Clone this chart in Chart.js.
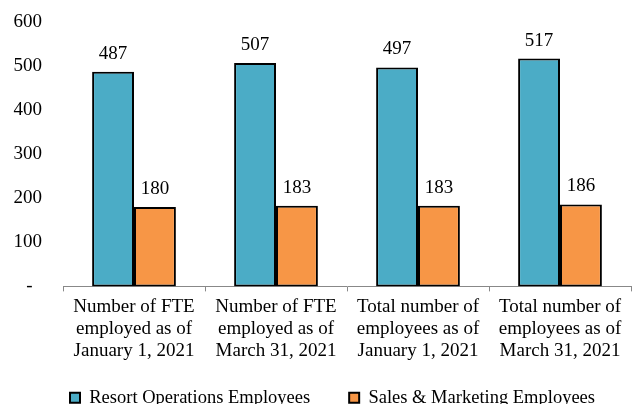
<!DOCTYPE html>
<html>
<head>
<meta charset="utf-8">
<script src="https://cdn.jsdelivr.net/npm/chart.js@4.4.1/dist/chart.umd.min.js"></script>
<style>
  html, body { margin: 0; padding: 0; background: #fff; overflow: hidden; }
  #wrap { width: 642px; height: 404px; }
</style>
</head>
<body>
<div id="wrap"><canvas id="chart"></canvas></div>
<script>
// chart data
const categories = [
    ['Number of FTE', 'employed as of', 'January 1, 2021'],
    ['Number of FTE', 'employed as of', 'March 31, 2021'],
    ['Total number of', 'employees as of', 'January 1, 2021'],
    ['Total number of', 'employees as of', 'March 31, 2021']
];
const resortOps = [487, 507, 497, 517];
const salesMarketing = [180, 183, 183, 186];
const seriesNames = ['Resort Operations Employees', 'Sales & Marketing Employees'];
const yTicks = [0, 100, 200, 300, 400, 500, 600];

const FONT = "'Liberation Serif', 'Times New Roman', serif";

// draws the value above each bar
const valueLabels = {
    id: 'valueLabels',
    afterDatasetsDraw(chart) {
        const ctx = chart.ctx;
        ctx.save();
        ctx.font = '19px ' + FONT;
        ctx.fillStyle = '#000';
        ctx.textAlign = 'center';
        ctx.textBaseline = 'middle';
        chart.data.datasets.forEach((ds, i) => {
            chart.getDatasetMeta(i).data.forEach((bar, j) => {
                ctx.fillText(ds.data[j], bar.x, bar.y - 18);
            });
        });
        ctx.restore();
    }
};

// legend sits tighter under the axis labels (and a bit right) compared to Chart.js default
const legendShift = {
    id: 'legendShift',
    afterLayout(chart) {
        const lg = chart.legend;
        lg.top -= 18; lg.bottom -= 18;
        lg.left += 12; lg.right += 12;
    }
};

new Chart(document.getElementById('chart').getContext('2d'), {
    type: 'bar',
    data: {
        labels: categories,
        datasets: [{
            label: seriesNames[0],
            data: resortOps,
            backgroundColor: '#4BACC6',
            borderColor: '#000',
            borderWidth: 2,
            borderSkipped: false
        }, {
            label: seriesNames[1],
            data: salesMarketing,
            backgroundColor: '#F79646',
            borderColor: '#000',
            borderWidth: 2,
            borderSkipped: false
        }]
    },
    options: {
        responsive: true,
        maintainAspectRatio: false,
        animation: false,
        // legend runs off the bottom edge like in the original
        layout: { padding: { left: 10, right: 11, top: 22, bottom: -31 } },
        datasets: {
            bar: { categoryPercentage: 0.59, barPercentage: 1.0 }
        },
        plugins: {
            legend: {
                position: 'bottom',
                labels: {
                    font: { family: FONT, size: 18.5 },
                    color: '#000',
                    boxWidth: 10,
                    boxHeight: 10,
                    padding: 39
                }
            },
            tooltip: { enabled: false }
        },
        scales: {
            x: {
                offset: true,
                grid: {
                    display: true,
                    drawOnChartArea: false,
                    drawTicks: true,
                    tickLength: 5,
                    color: '#888'
                },
                border: { display: true, color: '#888', width: 1 },
                ticks: {
                    color: '#000',
                    font: { family: FONT, size: 19, lineHeight: 1.16 },
                    padding: 5,
                    maxRotation: 0,
                    autoSkip: false
                }
            },
            y: {
                min: 0,
                max: 600,
                afterBuildTicks: (axis) => { axis.ticks = yTicks.map(v => ({ value: v })); },
                afterFit: (axis) => {
                    axis.width = 53;
                    axis.paddingTop = 0;
                    axis.paddingBottom = 0;
                },
                grid: { display: false, drawTicks: false },
                border: { display: false },
                ticks: {
                    color: '#000',
                    font: { family: FONT, size: 19 },
                    padding: 21,
                    callback: (v) => v === 0 ? '-  ' : v
                }
            }
        }
    },
    plugins: [valueLabels, legendShift]
});
</script>
</body>
</html>
